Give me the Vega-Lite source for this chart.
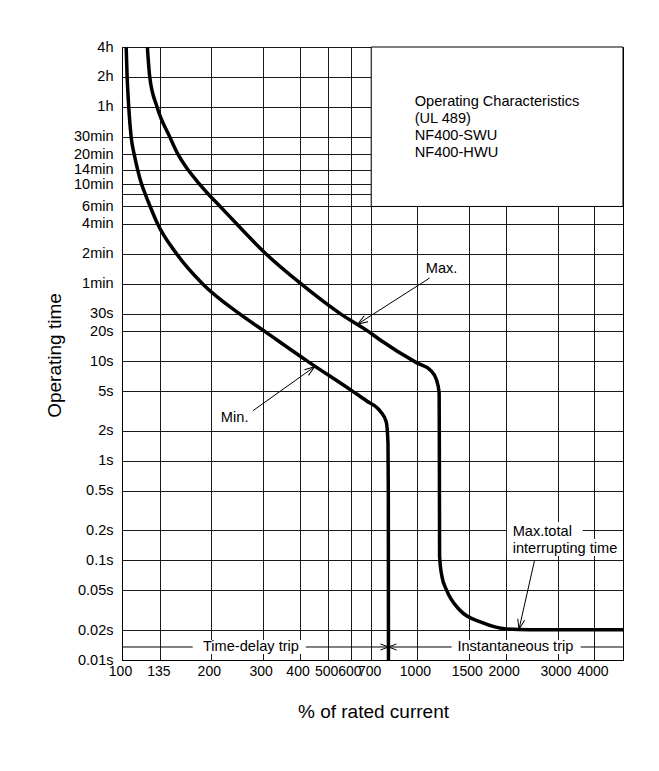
{
  "$schema": "https://vega.github.io/schema/vega-lite/v6.json",
  "width": 501,
  "height": 613,
  "autosize": {"type": "none"},
  "padding": {"left": 122, "top": 47, "right": 36, "bottom": 111},
  "background": "white",
  "config": {
    "font": "Liberation Sans",
    "view": {"stroke": "#000", "strokeWidth": 1}
  },
  "datasets": {
    "curves": [
      {"s": "min", "x": 103.3, "t": 14400},
      {"s": "min", "x": 104.1, "t": 7200},
      {"s": "min", "x": 105.4, "t": 3600},
      {"s": "min", "x": 107.4, "t": 1800},
      {"s": "min", "x": 110.0, "t": 1200},
      {"s": "min", "x": 113.0, "t": 840},
      {"s": "min", "x": 116.6, "t": 600},
      {"s": "min", "x": 119.9, "t": 480},
      {"s": "min", "x": 124.6, "t": 360},
      {"s": "min", "x": 132.1, "t": 240},
      {"s": "min", "x": 153.3, "t": 120},
      {"s": "min", "x": 187.8, "t": 60},
      {"s": "min", "x": 250.6, "t": 30},
      {"s": "min", "x": 304.8, "t": 20},
      {"s": "min", "x": 426.4, "t": 10},
      {"s": "min", "x": 606, "t": 5},
      {"s": "min", "x": 676, "t": 4.0},
      {"s": "min", "x": 750, "t": 3.18},
      {"s": "min", "x": 787, "t": 2.47},
      {"s": "min", "x": 798, "t": 1.52},
      {"s": "min", "x": 800, "t": 0.5},
      {"s": "min", "x": 801, "t": 0.01},
      {"s": "max", "x": 121.9, "t": 14400},
      {"s": "max", "x": 124.2, "t": 7200},
      {"s": "max", "x": 131.5, "t": 3600},
      {"s": "max", "x": 145.2, "t": 1800},
      {"s": "max", "x": 154.9, "t": 1200},
      {"s": "max", "x": 167.5, "t": 840},
      {"s": "max", "x": 183.5, "t": 600},
      {"s": "max", "x": 196, "t": 480},
      {"s": "max", "x": 215.3, "t": 360},
      {"s": "max", "x": 245, "t": 240},
      {"s": "max", "x": 308, "t": 120},
      {"s": "max", "x": 405, "t": 60},
      {"s": "max", "x": 551, "t": 30},
      {"s": "max", "x": 684, "t": 20},
      {"s": "max", "x": 751, "t": 16.4},
      {"s": "max", "x": 1000, "t": 9.66},
      {"s": "max", "x": 1109, "t": 8.2},
      {"s": "max", "x": 1166, "t": 6.5},
      {"s": "max", "x": 1190, "t": 4.8},
      {"s": "max", "x": 1192, "t": 1},
      {"s": "max", "x": 1194, "t": 0.11},
      {"s": "max", "x": 1215, "t": 0.07},
      {"s": "max", "x": 1260, "t": 0.0505},
      {"s": "max", "x": 1397, "t": 0.0318},
      {"s": "max", "x": 1667, "t": 0.0237},
      {"s": "max", "x": 2016, "t": 0.0205},
      {"s": "max", "x": 2400, "t": 0.0201},
      {"s": "max", "x": 5000, "t": 0.0201}
    ]
  },
  "layer": [
    {
      "data": {"values": [{"x": 700, "x2": 5000, "t": 360, "t2": 14400}]},
      "mark": {"type": "rect", "fill": "white", "stroke": "#000", "strokeWidth": 1},
      "encoding": {
        "x": {
          "field": "x", "type": "quantitative",
          "scale": {"type": "log", "domain": [100, 5000], "nice": false},
          "axis": {
            "values": [100, 135, 200, 300, 400, 500, 600, 700, 1000, 1500, 2000, 3000, 4000],
            "format": "d",
            "title": "% of rated current",
            "grid": true, "gridColor": "#1a1a1a", "gridWidth": 1, "gridOpacity": 1,
            "ticks": false, "tickSize": 0,
            "domain": true, "domainColor": "#000",
            "labelFontSize": 14, "labelColor": "#000", "labelPadding": 4,
            "labelOverlap": false, "labelFlush": false, "labelBound": false, "labelOffset": -2,
            "titleFontSize": 19, "titleFontWeight": "normal", "titleColor": "#000",
            "titleX": 251, "titleY": 57, "titleAlign": "center", "titleBaseline": "alphabetic"
          }
        },
        "x2": {"field": "x2"},
        "y": {
          "field": "t", "type": "quantitative",
          "scale": {"type": "log", "domain": [0.01, 14400], "nice": false},
          "axis": {
            "values": [0.01, 0.02, 0.05, 0.1, 0.2, 0.5, 1, 2, 5, 10, 20, 30, 60, 120, 240, 360, 480, 600, 840, 1200, 1800, 3600, 7200, 14400],
            "labelExpr": "datum.value >= 3600 ? (datum.value/3600) + 'h' : datum.value == 480 ? '' : datum.value >= 60 ? (datum.value/60) + 'min' : datum.value + 's'",
            "title": "Operating time",
            "grid": true, "gridColor": "#1a1a1a", "gridWidth": 1, "gridOpacity": 1,
            "ticks": false, "tickSize": 0,
            "domain": true, "domainColor": "#000",
            "labelFontSize": 14.5, "labelColor": "#000", "labelPadding": 9,
            "labelOverlap": false, "labelFlush": false, "labelBound": false,
            "titleFontSize": 19, "titleFontWeight": "normal", "titleColor": "#000",
            "titleX": -62, "titleY": 308, "titleAlign": "center", "titleBaseline": "alphabetic"
          }
        },
        "y2": {"field": "t2"}
      }
    },
    {
      "data": {"values": [
        {"x": 100, "x2": 801, "t": 0.01351},
        {"x": 801, "x2": 5000, "t": 0.01351}
      ]},
      "mark": {"type": "rule", "color": "#000", "strokeWidth": 1},
      "encoding": {
        "x": {"field": "x", "type": "quantitative"},
        "x2": {"field": "x2"},
        "y": {"field": "t", "type": "quantitative"}
      }
    },
    {
      "data": {"values": [
        {"x": 2020, "x2": 3650, "t": 0.1643, "t2": 0.2434},
        {"x": 2020, "x2": 4873, "t": 0.1109, "t2": 0.1643},
        {"x": 173.7, "x2": 420, "t": 0.01149, "t2": 0.01589},
        {"x": 1312, "x2": 3594, "t": 0.01149, "t2": 0.01589}
      ]},
      "mark": {"type": "rect", "fill": "white", "strokeWidth": 0},
      "encoding": {
        "x": {"field": "x", "type": "quantitative"},
        "x2": {"field": "x2"},
        "y": {"field": "t", "type": "quantitative"},
        "y2": {"field": "t2"}
      }
    },
    {
      "data": {"name": "curves"},
      "mark": {"type": "line", "color": "#000", "strokeWidth": 3.5, "interpolate": "monotone", "clip": true},
      "encoding": {
        "x": {"field": "x", "type": "quantitative"},
        "y": {"field": "t", "type": "quantitative"},
        "detail": {"field": "s"}
      }
    },
    {
      "data": {"values": [
        {"x": 1105, "t": 68.8, "x2": 630, "t2": 23.7},
        {"x": 278, "t": 3.196, "x2": 450, "t2": 8.84},
        {"x": 2508, "t": 0.1011, "x2": 2219, "t2": 0.02034}
      ]},
      "mark": {"type": "rule", "color": "#000", "strokeWidth": 1},
      "encoding": {
        "x": {"field": "x", "type": "quantitative"},
        "y": {"field": "t", "type": "quantitative"},
        "x2": {"field": "x2"},
        "y2": {"field": "t2"}
      }
    },
    {
      "data": {"values": [{"x": 630, "t": 23.7}]},
      "mark": {"type": "point", "shape": "M-1,-0.35L0,0L-1,0.35", "filled": false, "color": "#000", "strokeWidth": 1, "size": 400, "opacity": 1, "angle": 147.4},
      "encoding": {"x": {"field": "x", "type": "quantitative"}, "y": {"field": "t", "type": "quantitative"}}
    },
    {
      "data": {"values": [{"x": 450, "t": 8.84}]},
      "mark": {"type": "point", "shape": "M-1,-0.35L0,0L-1,0.35", "filled": false, "color": "#000", "strokeWidth": 1, "size": 400, "opacity": 1, "angle": 324.5},
      "encoding": {"x": {"field": "x", "type": "quantitative"}, "y": {"field": "t", "type": "quantitative"}}
    },
    {
      "data": {"values": [{"x": 2219, "t": 0.02034}]},
      "mark": {"type": "point", "shape": "M-1,-0.35L0,0L-1,0.35", "filled": false, "color": "#000", "strokeWidth": 1, "size": 400, "opacity": 1, "angle": 102.8},
      "encoding": {"x": {"field": "x", "type": "quantitative"}, "y": {"field": "t", "type": "quantitative"}}
    },
    {
      "data": {"values": [{"x": 801, "t": 0.01351}]},
      "mark": {"type": "point", "shape": "M-1,-0.375L0,0L-1,0.375", "filled": false, "color": "#000", "strokeWidth": 1, "size": 256, "opacity": 1, "angle": 0},
      "encoding": {"x": {"field": "x", "type": "quantitative"}, "y": {"field": "t", "type": "quantitative"}}
    },
    {
      "data": {"values": [{"x": 801, "t": 0.01351}]},
      "mark": {"type": "point", "shape": "M-1,-0.375L0,0L-1,0.375", "filled": false, "color": "#000", "strokeWidth": 1, "size": 256, "opacity": 1, "angle": 180},
      "encoding": {"x": {"field": "x", "type": "quantitative"}, "y": {"field": "t", "type": "quantitative"}}
    },
    {
      "data": {"values": [
        {"x": 983, "t": 4855, "label": "Operating Characteristics\n(UL 489)\nNF400-SWU\nNF400-HWU"},
        {"x": 2113, "t": 0.2325, "label": "Max.total\ninterrupting time"}
      ]},
      "mark": {"type": "text", "align": "left", "baseline": "top", "fontSize": 14.6, "lineHeight": 17, "lineBreak": "\n", "color": "#000"},
      "encoding": {
        "x": {"field": "x", "type": "quantitative"},
        "y": {"field": "t", "type": "quantitative"},
        "text": {"field": "label"}
      }
    },
    {
      "data": {"values": [
        {"x": 1213, "t": 84.8, "label": "Max."},
        {"x": 241, "t": 2.70, "label": "Min."},
        {"x": 273.7, "t": 0.01351, "label": "Time-delay trip"},
        {"x": 2158, "t": 0.01351, "label": "Instantaneous trip"}
      ]},
      "mark": {"type": "text", "align": "center", "baseline": "middle", "fontSize": 14.6, "color": "#000"},
      "encoding": {
        "x": {"field": "x", "type": "quantitative"},
        "y": {"field": "t", "type": "quantitative"},
        "text": {"field": "label"}
      }
    }
  ]
}
